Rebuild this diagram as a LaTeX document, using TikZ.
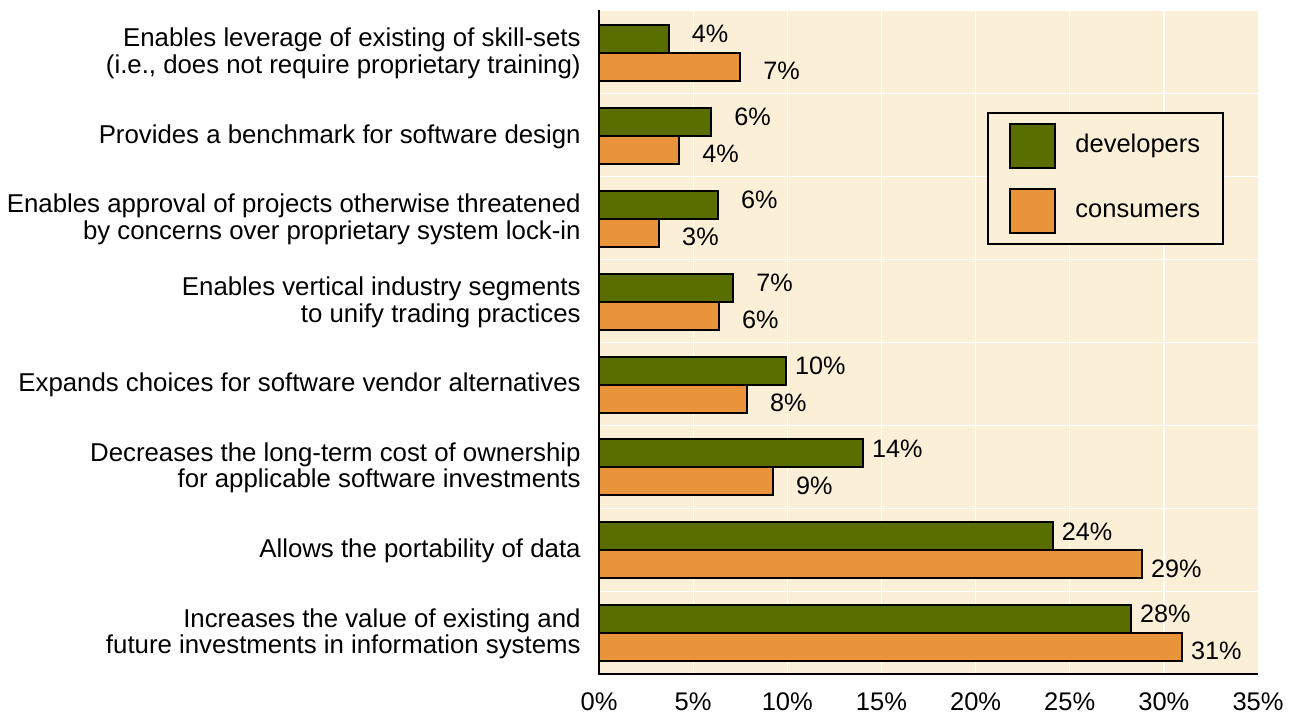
\documentclass[tikz,border=0pt]{standalone}
\usepackage{fontspec}
\setmainfont{Liberation Sans}
\definecolor{devgreen}{RGB}{90,110,0}
\definecolor{conorange}{RGB}{233,148,58}
\definecolor{plotbg}{RGB}{251,239,215}
\tikzset{
  bar/.style={draw=black, line width=1pt},
  gridline/.style={white, line width=0.6pt},
  catlabel/.style={anchor=east, align=right, inner sep=0pt, font=\fontsize{12.9}{13.25}\selectfont},
  pctlabel/.style={anchor=east, inner sep=0pt, font=\fontsize{12.6}{14}\selectfont},
  ticklabel/.style={inner sep=0pt, font=\fontsize{12.75}{14}\selectfont},
}
\begin{document}
\begin{tikzpicture}[x=0.5pt,y=-0.5pt]
\useasboundingbox (0,0) rectangle (1298,715);
%plot area
\fill [plotbg] (599,11) rectangle (1258,674);
\foreach \k in {1,...,6} \draw [gridline] ({599+5*\k*18.83},11) -- ({599+5*\k*18.83},674);
\foreach \k in {1,...,7} \draw [gridline] (599,{11+\k*82.9}) -- (1258,{11+\k*82.9});
%bars
\foreach \i/\g/\o/\gl/\ol/\txt in {
  1/3.7/7.5/4/7/{Enables leverage of existing of skill-sets\\(i.e., does not require proprietary training)},
  2/5.96/4.26/6/4/{Provides a benchmark for software design},
  3/6.32/3.19/6/3/{Enables approval of projects otherwise threatened\\by concerns over proprietary system lock-in},
  4/7.12/6.37/7/6/{Enables vertical industry segments\\to unify trading practices},
  5/9.93/7.86/10/8/{Expands choices for software vendor alternatives},
  6/14.02/9.24/14/9/{Decreases the long-term cost of ownership\\for applicable software investments},
  7/24.1/28.84/24/29/{Allows the portability of data},
  8/28.25/30.96/28/31/{Increases the value of existing and\\future investments in information systems}}{
  \pgfmathsetmacro{\yc}{11+(\i-0.5)*82.9+0.5}
  \draw [bar, fill=devgreen] (599,{\yc-28}) rectangle ({599+\g*18.83},\yc);
  \draw [bar, fill=conorange] (599,\yc) rectangle ({599+\o*18.83},{\yc+28});
  \node [pctlabel] (dev\i) at ({599+\g*18.83+60},{\yc-19}) {\gl\%};
  \node [pctlabel] (con\i) at ({599+\o*18.83+60},{\yc+18}) {\ol\%};
  \node [catlabel] (cat\i) at (581,{\yc+0.5}) {\txt};
}
%axis
\draw [line width=1pt] (599,10) -- (599,674) -- (1258,674);
\foreach \k [evaluate=\k as \p using int(5*\k)] in {0,...,7}
  \node [ticklabel] (tick\k) at ({599+5*\k*18.83},702) {\p\%};
%legend
\node [draw, line width=1pt, fill=plotbg, minimum width=117.5pt, minimum height=65.5pt] (legend) at (1105.5,178.5) {};
\draw [bar, fill=devgreen] (1010,124) rectangle (1055,168);
\draw [bar, fill=conorange] (1010,189) rectangle (1055,233);
\node [ticklabel, anchor=west] (legdev) at (1075,146) {developers};
\node [ticklabel, anchor=west] (legcon) at (1075,211) {consumers};
\end{tikzpicture}
\end{document}
